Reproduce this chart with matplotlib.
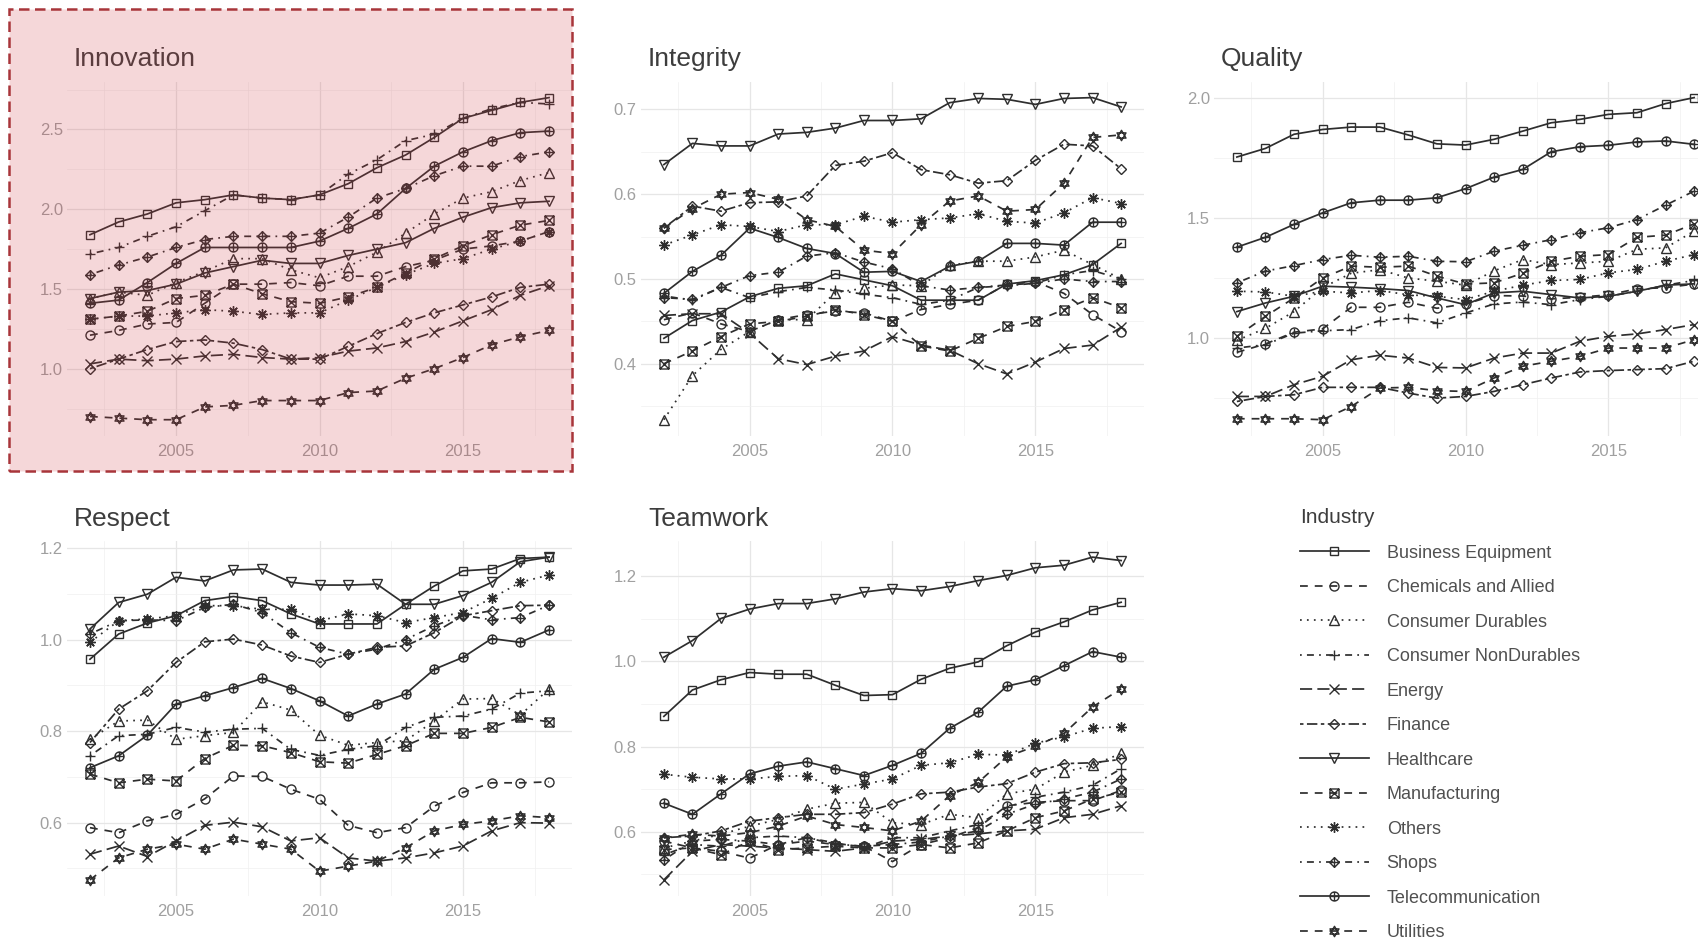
import matplotlib
matplotlib.use("Agg")  # no display
import matplotlib.pyplot as plt
import matplotlib.transforms as mtransforms
import numpy as np
from matplotlib.path import Path
from matplotlib.patches import Rectangle
from matplotlib.ticker import MultipleLocator, FormatStrFormatter

plt.rcParams["font.family"] = ["Liberation Sans", "DejaVu Sans"]

# ---- data -----------------------------------------------------------------
YEARS = list(range(2002, 2019))

INDUSTRIES = [
    "Business Equipment", "Chemicals and Allied", "Consumer Durables",
    "Consumer NonDurables", "Energy", "Finance", "Healthcare",
    "Manufacturing", "Others", "Shops", "Telecommunication", "Utilities",
]

# one row per industry (same order as INDUSTRIES), one column per year
INNOVATION = [
    [1.84, 1.92, 1.97, 2.04, 2.06, 2.09, 2.07, 2.06, 2.09, 2.16, 2.26, 2.34, 2.45, 2.57, 2.62, 2.67, 2.70],
    [1.21, 1.24, 1.28, 1.29, 1.41, 1.53, 1.53, 1.54, 1.52, 1.58, 1.58, 1.64, 1.68, 1.75, 1.77, 1.80, 1.86],
    [1.44, 1.48, 1.46, 1.54, 1.61, 1.69, 1.69, 1.62, 1.57, 1.64, 1.73, 1.85, 1.97, 2.07, 2.11, 2.18, 2.23],
    [1.72, 1.76, 1.83, 1.89, 1.99, 2.09, 2.07, 2.06, 2.09, 2.22, 2.31, 2.43, 2.47, 2.57, 2.63, 2.67, 2.66],
    [1.03, 1.06, 1.05, 1.06, 1.08, 1.09, 1.07, 1.06, 1.07, 1.11, 1.13, 1.17, 1.23, 1.30, 1.37, 1.46, 1.52],
    [1.00, 1.06, 1.12, 1.17, 1.18, 1.16, 1.12, 1.06, 1.06, 1.14, 1.22, 1.29, 1.35, 1.40, 1.45, 1.51, 1.53],
    [1.44, 1.48, 1.49, 1.53, 1.60, 1.64, 1.68, 1.66, 1.66, 1.71, 1.75, 1.79, 1.88, 1.95, 2.01, 2.04, 2.05],
    [1.31, 1.33, 1.36, 1.44, 1.46, 1.53, 1.47, 1.42, 1.41, 1.45, 1.51, 1.60, 1.69, 1.77, 1.84, 1.90, 1.93],
    [1.31, 1.33, 1.33, 1.35, 1.37, 1.36, 1.34, 1.35, 1.35, 1.43, 1.51, 1.59, 1.66, 1.69, 1.75, 1.80, 1.86],
    [1.59, 1.65, 1.70, 1.76, 1.81, 1.83, 1.83, 1.83, 1.85, 1.95, 2.07, 2.13, 2.21, 2.27, 2.27, 2.33, 2.36],
    [1.41, 1.43, 1.54, 1.66, 1.76, 1.76, 1.76, 1.76, 1.80, 1.88, 1.97, 2.13, 2.27, 2.36, 2.43, 2.48, 2.49],
    [0.70, 0.69, 0.68, 0.68, 0.76, 0.77, 0.80, 0.80, 0.80, 0.85, 0.86, 0.94, 1.00, 1.07, 1.15, 1.20, 1.24],
]

INTEGRITY = [
    [0.430, 0.451, 0.461, 0.479, 0.489, 0.492, 0.506, 0.499, 0.492, 0.475, 0.475, 0.475, 0.494, 0.498, 0.505, 0.517, 0.542],
    [0.452, 0.460, 0.447, 0.438, 0.452, 0.458, 0.462, 0.460, 0.450, 0.464, 0.470, 0.475, 0.494, 0.497, 0.483, 0.458, 0.438],
    [0.334, 0.386, 0.417, 0.438, 0.452, 0.452, 0.484, 0.489, 0.493, 0.492, 0.516, 0.521, 0.521, 0.526, 0.534, 0.517, 0.500],
    [0.480, 0.475, 0.490, 0.478, 0.485, 0.490, 0.487, 0.482, 0.478, 0.470, 0.475, 0.490, 0.492, 0.495, 0.505, 0.510, 0.500],
    [0.457, 0.459, 0.459, 0.436, 0.406, 0.399, 0.409, 0.415, 0.432, 0.422, 0.416, 0.400, 0.388, 0.402, 0.418, 0.422, 0.443],
    [0.560, 0.586, 0.580, 0.590, 0.591, 0.598, 0.634, 0.639, 0.649, 0.629, 0.623, 0.613, 0.616, 0.640, 0.659, 0.657, 0.630],
    [0.635, 0.660, 0.657, 0.657, 0.671, 0.673, 0.678, 0.687, 0.687, 0.689, 0.708, 0.713, 0.712, 0.706, 0.713, 0.714, 0.703],
    [0.400, 0.415, 0.432, 0.447, 0.450, 0.456, 0.464, 0.458, 0.450, 0.421, 0.415, 0.430, 0.444, 0.450, 0.464, 0.478, 0.466],
    [0.540, 0.552, 0.564, 0.562, 0.556, 0.564, 0.564, 0.574, 0.567, 0.570, 0.572, 0.577, 0.568, 0.566, 0.578, 0.596, 0.589],
    [0.478, 0.476, 0.490, 0.504, 0.508, 0.527, 0.531, 0.520, 0.512, 0.492, 0.487, 0.490, 0.493, 0.495, 0.500, 0.497, 0.497],
    [0.483, 0.509, 0.528, 0.560, 0.549, 0.536, 0.530, 0.508, 0.509, 0.497, 0.515, 0.521, 0.542, 0.542, 0.540, 0.567, 0.567],
    [0.560, 0.583, 0.600, 0.602, 0.594, 0.570, 0.562, 0.534, 0.530, 0.564, 0.592, 0.598, 0.580, 0.582, 0.613, 0.667, 0.670],
]

QUALITY = [
    [1.755, 1.791, 1.850, 1.870, 1.880, 1.880, 1.847, 1.810, 1.805, 1.829, 1.863, 1.898, 1.912, 1.933, 1.940, 1.978, 2.003],
    [0.940, 0.975, 1.024, 1.038, 1.128, 1.128, 1.149, 1.124, 1.142, 1.177, 1.175, 1.163, 1.170, 1.180, 1.205, 1.210, 1.225],
    [0.990, 1.040, 1.110, 1.210, 1.270, 1.285, 1.250, 1.237, 1.220, 1.280, 1.327, 1.306, 1.313, 1.320, 1.370, 1.376, 1.446],
    [0.958, 0.972, 1.020, 1.030, 1.035, 1.072, 1.084, 1.063, 1.104, 1.142, 1.150, 1.139, 1.160, 1.174, 1.195, 1.220, 1.240],
    [0.756, 0.756, 0.805, 0.840, 0.909, 0.928, 0.916, 0.877, 0.875, 0.916, 0.937, 0.937, 0.986, 1.007, 1.017, 1.035, 1.056],
    [0.735, 0.756, 0.763, 0.794, 0.794, 0.794, 0.770, 0.749, 0.756, 0.777, 0.805, 0.833, 0.858, 0.864, 0.868, 0.872, 0.903],
    [1.110, 1.146, 1.174, 1.216, 1.212, 1.206, 1.198, 1.167, 1.139, 1.188, 1.195, 1.181, 1.167, 1.174, 1.195, 1.220, 1.226],
    [1.007, 1.090, 1.167, 1.250, 1.300, 1.295, 1.300, 1.258, 1.225, 1.230, 1.270, 1.320, 1.341, 1.348, 1.420, 1.429, 1.476],
    [1.195, 1.192, 1.174, 1.195, 1.188, 1.198, 1.180, 1.174, 1.160, 1.195, 1.220, 1.240, 1.244, 1.272, 1.286, 1.320, 1.348],
    [1.230, 1.279, 1.302, 1.327, 1.345, 1.337, 1.341, 1.320, 1.318, 1.362, 1.387, 1.410, 1.439, 1.460, 1.494, 1.554, 1.613],
    [1.379, 1.420, 1.474, 1.522, 1.564, 1.575, 1.575, 1.585, 1.623, 1.671, 1.703, 1.777, 1.798, 1.804, 1.818, 1.822, 1.808],
    [0.663, 0.663, 0.663, 0.659, 0.714, 0.791, 0.794, 0.780, 0.777, 0.833, 0.882, 0.903, 0.923, 0.958, 0.958, 0.958, 0.993],
]

RESPECT = [
    [0.957, 1.012, 1.036, 1.052, 1.085, 1.094, 1.085, 1.056, 1.034, 1.034, 1.034, 1.077, 1.117, 1.150, 1.154, 1.177, 1.180],
    [0.589, 0.578, 0.604, 0.618, 0.652, 0.702, 0.701, 0.673, 0.651, 0.594, 0.578, 0.589, 0.636, 0.666, 0.687, 0.687, 0.689],
    [0.782, 0.822, 0.824, 0.782, 0.790, 0.797, 0.864, 0.846, 0.791, 0.769, 0.775, 0.779, 0.822, 0.870, 0.871, 0.835, 0.892],
    [0.746, 0.790, 0.793, 0.808, 0.798, 0.804, 0.806, 0.760, 0.747, 0.760, 0.768, 0.808, 0.830, 0.833, 0.848, 0.883, 0.888],
    [0.531, 0.549, 0.526, 0.560, 0.594, 0.601, 0.591, 0.560, 0.567, 0.523, 0.516, 0.523, 0.534, 0.549, 0.582, 0.600, 0.599],
    [0.775, 0.848, 0.888, 0.950, 0.995, 1.001, 0.988, 0.964, 0.950, 0.968, 0.983, 0.986, 1.015, 1.052, 1.063, 1.074, 1.075],
    [1.023, 1.081, 1.099, 1.136, 1.128, 1.152, 1.154, 1.125, 1.119, 1.119, 1.121, 1.077, 1.077, 1.096, 1.125, 1.170, 1.180],
    [0.706, 0.687, 0.695, 0.691, 0.740, 0.769, 0.768, 0.753, 0.733, 0.730, 0.749, 0.768, 0.795, 0.795, 0.808, 0.830, 0.820],
    [0.994, 1.041, 1.045, 1.052, 1.074, 1.074, 1.066, 1.066, 1.041, 1.056, 1.052, 1.037, 1.048, 1.059, 1.090, 1.125, 1.141],
    [1.012, 1.041, 1.043, 1.041, 1.070, 1.077, 1.059, 1.015, 0.983, 0.968, 0.979, 1.000, 1.030, 1.053, 1.043, 1.048, 1.075],
    [0.720, 0.746, 0.791, 0.859, 0.877, 0.895, 0.915, 0.893, 0.866, 0.833, 0.859, 0.881, 0.935, 0.961, 1.002, 0.994, 1.021],
    [0.475, 0.523, 0.542, 0.553, 0.542, 0.564, 0.553, 0.542, 0.494, 0.505, 0.516, 0.545, 0.582, 0.596, 0.604, 0.615, 0.611],
]

TEAMWORK = [
    [0.871, 0.933, 0.957, 0.974, 0.970, 0.970, 0.944, 0.920, 0.922, 0.958, 0.984, 0.999, 1.037, 1.069, 1.093, 1.121, 1.139],
    [0.578, 0.562, 0.554, 0.538, 0.570, 0.578, 0.570, 0.566, 0.530, 0.570, 0.586, 0.610, 0.661, 0.669, 0.673, 0.673, 0.697],
    [0.562, 0.578, 0.594, 0.613, 0.629, 0.653, 0.667, 0.669, 0.621, 0.617, 0.641, 0.633, 0.689, 0.700, 0.740, 0.756, 0.784],
    [0.546, 0.570, 0.566, 0.586, 0.590, 0.586, 0.574, 0.562, 0.586, 0.586, 0.602, 0.617, 0.657, 0.681, 0.693, 0.709, 0.748],
    [0.487, 0.554, 0.570, 0.566, 0.562, 0.558, 0.554, 0.562, 0.578, 0.582, 0.590, 0.595, 0.602, 0.606, 0.633, 0.641, 0.661],
    [0.586, 0.590, 0.602, 0.625, 0.633, 0.641, 0.641, 0.645, 0.665, 0.689, 0.693, 0.705, 0.713, 0.740, 0.760, 0.762, 0.770],
    [1.010, 1.049, 1.101, 1.123, 1.136, 1.136, 1.147, 1.163, 1.171, 1.166, 1.176, 1.190, 1.202, 1.220, 1.226, 1.245, 1.237],
    [0.558, 0.562, 0.546, 0.578, 0.558, 0.562, 0.566, 0.562, 0.562, 0.570, 0.562, 0.574, 0.602, 0.633, 0.649, 0.677, 0.693],
    [0.735, 0.728, 0.724, 0.724, 0.730, 0.732, 0.700, 0.712, 0.724, 0.756, 0.762, 0.782, 0.780, 0.808, 0.823, 0.843, 0.847],
    [0.534, 0.578, 0.582, 0.578, 0.570, 0.586, 0.571, 0.566, 0.570, 0.576, 0.590, 0.602, 0.641, 0.665, 0.677, 0.693, 0.724],
    [0.667, 0.641, 0.689, 0.736, 0.754, 0.764, 0.748, 0.732, 0.756, 0.784, 0.843, 0.881, 0.942, 0.957, 0.990, 1.023, 1.010],
    [0.586, 0.594, 0.590, 0.598, 0.613, 0.637, 0.617, 0.610, 0.602, 0.625, 0.685, 0.716, 0.776, 0.801, 0.831, 0.893, 0.936],
]

# facet name, values, y tick step, (row, col)
FACETS = [
    ("Innovation", INNOVATION, 0.5, (0, 0)),
    ("Integrity", INTEGRITY, 0.1, (0, 1)),
    ("Quality", QUALITY, 0.5, (0, 2)),
    ("Respect", RESPECT, 0.2, (1, 0)),
    ("Teamwork", TEAMWORK, 0.2, (1, 1)),
]

# ---- style ----------------------------------------------------------------
W, H = 1698, 938
LINE = "#2e2e2e"
TITLE_COLOR = "#3d3d3d"
TICK_COLOR = "#a0a0a0"
GRID_MAJOR = "#e6e6e6"
GRID_MINOR = "#f0f0f0"

# panel edges in pixels
COL_X = [(67, 572), (641, 1144), (1214, 1717)]
ROW_Y = [(81.5, 435.8), (541, 896)]


def marker_path(*parts):
    verts, codes = [], []
    for pts, closed in parts:
        verts.extend(pts)
        codes.extend([Path.MOVETO] + [Path.LINETO] * (len(pts) - 1))
        if closed:
            verts.append(pts[0])
            codes.append(Path.CLOSEPOLY)
    return Path(verts, codes)


_t = np.linspace(0, 2 * np.pi, 25)[:-1]
_circle = list(zip(np.cos(_t), np.sin(_t)))
_square = [(-1, -1), (1, -1), (1, 1), (-1, 1)]
_diamond = [(0, -1), (1, 0), (0, 1), (-1, 0)]
_hline = [(-1, 0), (1, 0)]
_vline = [(0, -1), (0, 1)]

SQUARE_X = marker_path((_square, True), ([(-1, -1), (1, 1)], False), ([(-1, 1), (1, -1)], False))
DIAMOND_PLUS = marker_path((_diamond, True), (_hline, False), (_vline, False))
CIRCLE_PLUS = marker_path((_circle, True), (_hline, False), (_vline, False))
STAR_TRI = marker_path(([(0, 1.15), (1, -0.58), (-1, -0.58)], True),
                       ([(0, -1.15), (1, 0.58), (-1, 0.58)], True))

MARKERS = ["s", "o", "^", "+", "x", "D", "v", SQUARE_X, (8, 2, 0),
           DIAMOND_PLUS, CIRCLE_PLUS, STAR_TRI]
MSIZES = [6, 6.5, 7, 7.5, 6.5, 5, 7, 6.5, 7.5, 7, 6.5, 7.5]

SOLID = "-"
DASHED = (0, (4.5, 4))
DOTTED = (0, (1, 3))
DOTDASH = (0, (1, 3, 4, 3))
LONGDASH = (0, (7, 3))
TWODASH = (0, (2, 2, 6, 2))
LINESTYLES = [SOLID, DASHED, DOTTED, DOTDASH, LONGDASH, TWODASH,
              SOLID, DASHED, DOTTED, DOTDASH, SOLID, DASHED]

fig = plt.figure(figsize=(W / 100, H / 100), dpi=100, facecolor="white")

handles = None
for name, table, step, (r, c) in FACETS:
    x0, x1 = COL_X[c]
    y0, y1 = ROW_Y[r]
    ax = fig.add_axes([x0 / W, 1 - y1 / H, (x1 - x0) / W, (y1 - y0) / H])

    for i, industry in enumerate(INDUSTRIES):
        ax.plot(YEARS, table[i], color=LINE, lw=1.25, ls=LINESTYLES[i],
                marker=MARKERS[i], ms=MSIZES[i], mfc="none", mec=LINE,
                mew=1.0, label=industry)

    # ggplot-like 5% expansion
    lo = min(min(v) for v in table)
    hi = max(max(v) for v in table)
    pad = (hi - lo) * 0.05
    ax.set_ylim(lo - pad, hi + pad)
    ax.set_xlim(2002 - 0.8, 2018 + 0.8)

    ax.xaxis.set_major_locator(MultipleLocator(5))
    ax.xaxis.set_minor_locator(MultipleLocator(2.5))
    ax.yaxis.set_major_locator(MultipleLocator(step))
    ax.yaxis.set_minor_locator(MultipleLocator(step / 2))
    ax.yaxis.set_major_formatter(FormatStrFormatter("%.1f"))

    ax.grid(True, which="major", color=GRID_MAJOR, lw=0.9)
    ax.grid(True, which="minor", color=GRID_MINOR, lw=0.5)
    ax.set_axisbelow(True)
    for spine in ax.spines.values():
        spine.set_visible(False)
    ax.tick_params(which="both", length=0, labelsize=12, colors=TICK_COLOR)
    ax.tick_params(axis="x", pad=6)
    ax.tick_params(axis="y", pad=3)

    title_tr = mtransforms.offset_copy(ax.transAxes, fig=fig, x=5, y=11, units="points")
    ax.text(0, 1, name, transform=title_tr, ha="left", va="baseline",
            fontsize=19, color=TITLE_COLOR)

    if handles is None:
        handles, labels = ax.get_legend_handles_labels()

legend = fig.legend(
    handles, labels,
    loc="upper left",
    bbox_to_anchor=(1300 / W, 1 - 508 / H),
    frameon=False,
    title="Industry",
    title_fontsize=15,
    fontsize=13,
    alignment="left",
    handlelength=3.8,
    handletextpad=1.0,
    labelspacing=0.97,
    borderpad=0,
    borderaxespad=0,
    labelcolor="#505050",
)
legend.get_title().set_color(TITLE_COLOR)

# highlighted first panel
fig.add_artist(Rectangle(
    (9 / W, 1 - 471 / H), (572 - 9) / W, (471 - 9) / H,
    transform=fig.transFigure, facecolor=(0.82, 0.23, 0.27, 0.2),
    edgecolor="#a8353a", lw=1.8, ls=(0, (4.2, 2.2)), zorder=10,
))

fig.savefig("out.png", dpi=100, facecolor="white")
plt.close(fig)
